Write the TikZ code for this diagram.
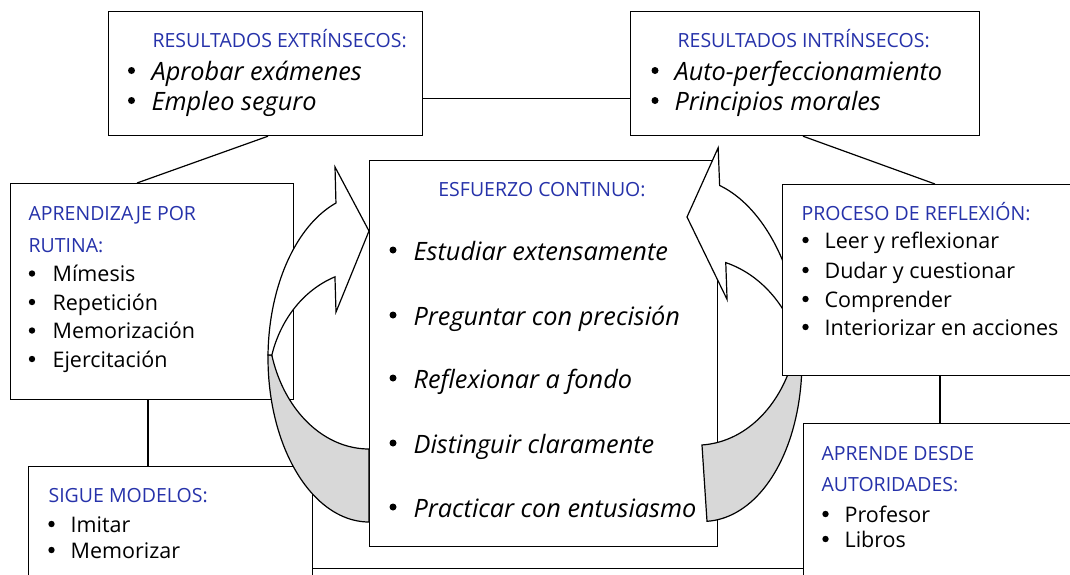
\documentclass[tikz,border=0pt]{standalone}
\usepackage{fontspec}
\setmainfont{Open Sans}
\usetikzlibrary{calc}
\definecolor{headblue}{RGB}{38,50,170}
\definecolor{backgray}{RGB}{216,216,216}
\newcommand{\drawcurvedarrow}{%
  \filldraw[arrowback] plot[variable=\t, domain=181.05:90, samples=45] ({369+101*cos(\t)},{358+164*sin(\t)})
     -- (369,449)
     -- plot[variable=\t, domain=90:164.2, samples=40] ({369+101*cos(\t)},{320+129*sin(\t)}) -- cycle;
  \filldraw[arrowfront] plot[variable=\t, domain=250.9:181.05, samples=50] ({369+101*cos(\t)},{358+164*sin(\t)})
     -- (271.8,355.1)
     -- plot[variable=\t, domain=195.8:250.3, samples=40] ({369+101*cos(\t)},{387+117*sin(\t)})
     -- (336,312) -- (369,231) -- (335,167) -- cycle;
}
\begin{document}
\begin{tikzpicture}[x=1pt,y=-1pt,line width=1.2pt,
  box/.style={draw=black,fill=white,inner sep=0pt,anchor=north west},
  conn/.style={draw=black},
  head/.style={anchor=base west,inner sep=0pt,text=headblue,font=\fontsize{19.5}{20}\selectfont,text height=14pt,text depth=4pt},
  item/.style={anchor=base west,inner sep=0pt,font=\fontsize{21.5}{22}\selectfont,text height=15pt,text depth=5pt},
  itemit/.style={anchor=base west,inner sep=0pt,font=\fontsize{25.3}{26}\selectfont\itshape,text height=18pt,text depth=6pt},
  arrowfront/.style={draw=black,fill=white,line join=miter},
  arrowback/.style={draw=black,fill=backgray,line join=miter}]
\useasboundingbox (0,0) rectangle (1070,574);
\clip (0,0) rectangle (1070,574);
% boxes (positions)
\node[box,minimum width=530pt,minimum height=60pt] (base) at (290,568) {};
\node[box,minimum width=314pt,minimum height=124pt] (ext) at (108,11) {};
\node[box,minimum width=349pt,minimum height=124pt] (int) at (630,11) {};
\node[box,minimum width=283pt,minimum height=216pt] (apr) at (10,183) {};
\node[box,minimum width=284pt,minimum height=150pt] (sigue) at (28,466) {};
\node[box,minimum width=348pt,minimum height=386pt] (esf) at (369,160) {};
% connectors
\draw[conn] ($(ext.south east)+(0,-38)$) -- ($(int.south west)+(0,-38)$);
\draw[conn] ($(ext.south west)+(160,0)$) -- ($(apr.north west)+(127,0)$);
\draw[conn] ($(apr.south west)+(138,0)$) -- ($(sigue.north west)+(120,0)$);
% texts ext
\node[head] (ext-h) at (152,47) {RESULTADOS EXTRÍNSECOS:};
\node[itemit] (ext-1) at (151,80) {Aprobar exámenes};
\node[itemit] (ext-2) at (151,110) {Empleo seguro};
% int
\node[head] (int-h) at (677,47) {RESULTADOS INTRÍNSECOS:};
\node[itemit] (int-1) at (674,80) {Auto-perfeccionamiento};
\node[itemit] (int-2) at (674,110) {Principios morales};
% apr
\node[head] (apr-h1) at (28,220) {APRENDIZAJE POR};
\node[head] (apr-h2) at (28,252) {RUTINA:};
\node[item] (apr-1) at (52,281) {Mímesis};
\node[item] (apr-2) at (52,310) {Repetición};
\node[item] (apr-3) at (52,338) {Memorización};
\node[item] (apr-4) at (52,367) {Ejercitación};
% sigue
\node[head] (sig-h) at (48,502) {SIGUE MODELOS:};
\node[item] (sig-1) at (70,532) {Imitar};
\node[item] (sig-2) at (70,558) {Memorizar};
% esf
\node[head,anchor=base] (esf-h) at (542,196) {ESFUERZO CONTINUO:};
\node[itemit] (esf-1) at (413,260) {Estudiar extensamente};
\node[itemit] (esf-2) at (413,325) {Preguntar con precisión};
\node[itemit] (esf-3) at (413,388) {Reflexionar a fondo};
\node[itemit] (esf-4) at (413,453) {Distinguir claramente};
\node[itemit] (esf-5) at (413,517) {Practicar con entusiasmo};
% arrows
\drawcurvedarrow
\begin{scope}[shift={(687,217)},rotate=3.76,xscale=-1.048,yscale=1.048,shift={(-369,-231)}]
\drawcurvedarrow
\end{scope}
% right boxes
\node[box,minimum width=300pt,minimum height=191pt] (proc) at (782,184) {};
\node[box,minimum width=300pt,minimum height=200pt] (apd) at (803,423) {};
\draw[conn] ($(int.south west)+(173,0)$) -- ($(proc.north west)+(153,0)$);
\draw[conn] ($(proc.south west)+(158,0)$) -- ($(apd.north west)+(137,0)$);
\node[head] (proc-h) at (801,220) {PROCESO DE REFLEXIÓN:};
\node[item] (proc-1) at (824,248) {Leer y reflexionar};
\node[item] (proc-2) at (824,278) {Dudar y cuestionar};
\node[item] (proc-3) at (824,307) {Comprender};
\node[item] (proc-4) at (824,335) {Interiorizar en acciones};
\node[head] (apd-h1) at (821,460) {APRENDE DESDE};
\node[head] (apd-h2) at (821,491) {AUTORIDADES:};
\node[item] (apd-1) at (844,522) {Profesor};
\node[item] (apd-2) at (844,547) {Libros};
% bullets
\foreach \bx/\by in {131.5/70.5,131.5/100.5,655/70.5,655/100.5,
    393/250,393/315,393/378,393/443,393/507}
  \fill (\bx,\by) circle[radius=3.5pt];
\foreach \bx/\by in {32/273.5,32/302,32/330.5,32/359,51.5/524,51.5/550,
    805.5/240,805.5/270,805.5/299,805.5/327,825.5/514,825.5/539}
  \fill (\bx,\by) circle[radius=3.2pt];
\end{tikzpicture}
\end{document}
